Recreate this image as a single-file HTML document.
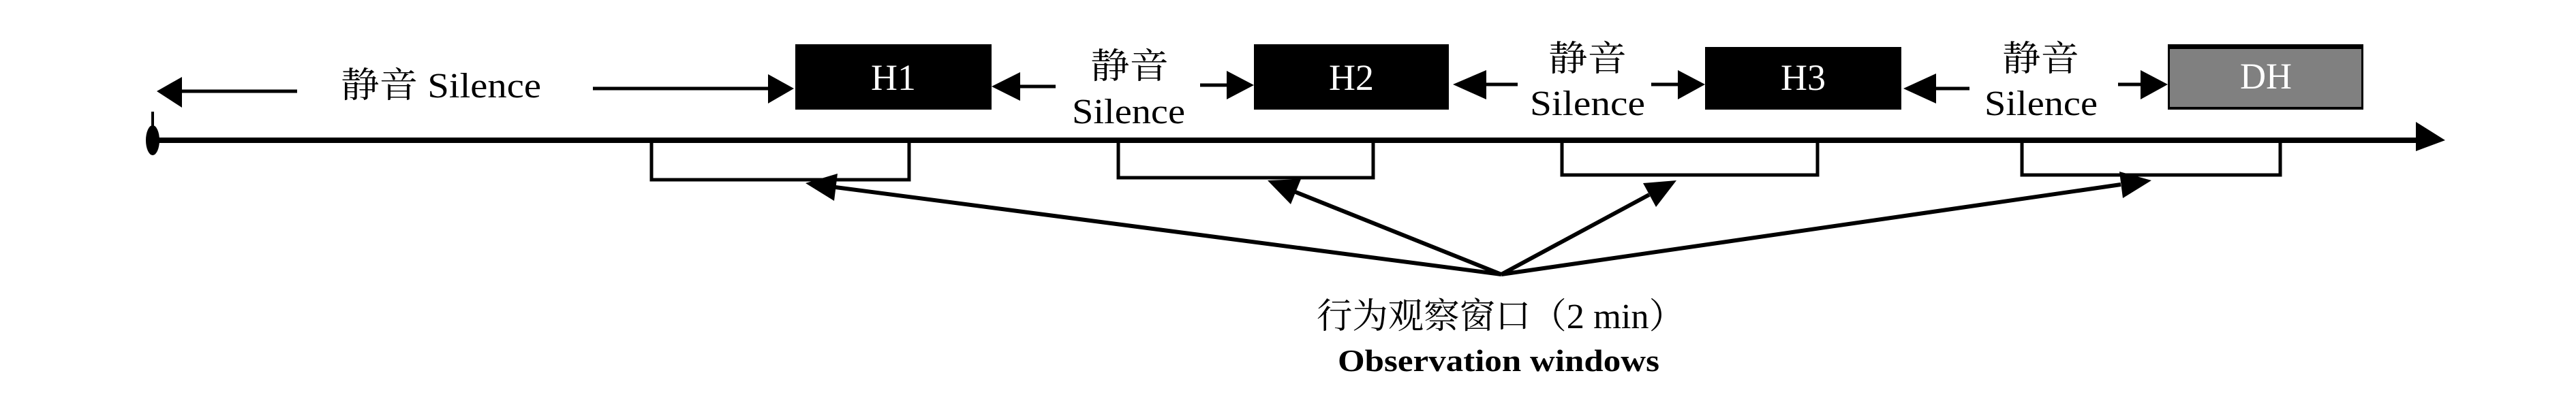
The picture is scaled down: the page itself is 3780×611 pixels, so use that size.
<!DOCTYPE html>
<html><head><meta charset="utf-8"><style>
html,body{margin:0;padding:0;background:#fff;width:3780px;height:611px;overflow:hidden}
svg{display:block}
.t{font-family:"Liberation Serif","Noto Serif CJK SC",serif;fill:#000}
</style></head><body>
<svg width="3780" height="611" viewBox="0 0 3780 611" xmlns="http://www.w3.org/2000/svg">
<!-- axis -->
<line x1="224" y1="206" x2="3550" y2="206" stroke="#000" stroke-width="8"/>
<polygon points="3545,179 3588,206 3545,222" fill="#000"/>
<line x1="224" y1="164" x2="224" y2="206" stroke="#000" stroke-width="4"/>
<ellipse cx="224" cy="206" rx="10" ry="22" fill="#000"/>
<!-- boxes -->
<rect x="1167" y="65" width="288" height="96" fill="#000"/>
<rect x="1840" y="65" width="286" height="96" fill="#000"/>
<rect x="2502" y="69" width="288" height="92" fill="#000"/>
<rect x="3181" y="65" width="287" height="96" fill="#000"/>
<rect x="3184" y="72" width="281" height="85" fill="#808080"/>
<g font-family="Liberation Serif" font-size="54" fill="#fff" text-anchor="middle">
<text x="1311" y="132" textLength="66" lengthAdjust="spacingAndGlyphs">H1</text>
<text x="1983" y="132" textLength="66" lengthAdjust="spacingAndGlyphs">H2</text>
<text x="2646" y="132" textLength="66" lengthAdjust="spacingAndGlyphs">H3</text>
<text x="3325" y="130" textLength="76" lengthAdjust="spacingAndGlyphs">DH</text>
</g>
<!-- windows -->
<g fill="none" stroke="#000" stroke-width="5">
<path d="M956,206 V264 H1334 V206"/>
<path d="M1641,206 V261 H2015 V206"/>
<path d="M2292,206 V257 H2667 V206"/>
<path d="M2967,206 V257 H3346 V206"/>
</g>
<!-- top arrows -->
<g stroke="#000" stroke-width="5">
<line x1="255" y1="134" x2="436" y2="134"/>
<line x1="870" y1="130" x2="1135" y2="130"/>
<line x1="1480" y1="127" x2="1549" y2="127"/>
<line x1="1761" y1="125" x2="1815" y2="125"/>
<line x1="2165" y1="124" x2="2227" y2="124"/>
<line x1="2423" y1="124" x2="2480" y2="124"/>
<line x1="2825" y1="130" x2="2890" y2="130"/>
<line x1="3108" y1="124" x2="3160" y2="124"/>
</g>
<g fill="#000">
<polygon points="230,134 267,113 267,158"/>
<polygon points="1165,130 1127,109 1127,152"/>
<polygon points="1455,127 1497,106 1497,148"/>
<polygon points="1840,125 1800,104 1800,146"/>
<polygon points="2132,124 2181,103 2181,146"/>
<polygon points="2502,124 2462,103 2462,146"/>
<polygon points="2793,130 2841,108 2841,152"/>
<polygon points="3181,124 3141,103 3141,146"/>
</g>
<!-- labels -->
<g class="t" font-size="52">
<text x="500" y="143" textLength="294" lengthAdjust="spacingAndGlyphs">静音 Silence</text>
<text x="1600" y="115" textLength="115" lengthAdjust="spacingAndGlyphs">静音</text>
<text x="1573" y="181" textLength="166" lengthAdjust="spacingAndGlyphs">Silence</text>
<text x="2272" y="104" textLength="115" lengthAdjust="spacingAndGlyphs">静音</text>
<text x="2245" y="169" textLength="169" lengthAdjust="spacingAndGlyphs">Silence</text>
<text x="2938" y="104" textLength="113" lengthAdjust="spacingAndGlyphs">静音</text>
<text x="2912" y="169" textLength="166" lengthAdjust="spacingAndGlyphs">Silence</text>
<text x="1932" y="482" textLength="540" lengthAdjust="spacingAndGlyphs">行为观察窗口（2 min）</text>
<text x="1963" y="545" font-size="46" font-weight="bold" textLength="472" lengthAdjust="spacingAndGlyphs">Observation windows</text>
</g>
<!-- converging arrows -->
<g stroke="#000" stroke-width="6">
<line x1="2203" y1="403" x2="1226" y2="275"/>
<line x1="2203" y1="403" x2="1901" y2="282"/>
<line x1="2203" y1="403" x2="2420" y2="286"/>
<line x1="2203" y1="403" x2="3112" y2="271"/>
</g>
<g fill="#000">
<polygon points="1182,269 1229,255 1224,295"/>
<polygon points="1860,265 1909,263 1894,300"/>
<polygon points="2460,265 2430,304 2411,269"/>
<polygon points="3157,265 3115,291 3110,252"/>
</g>
</svg>
</body></html>
